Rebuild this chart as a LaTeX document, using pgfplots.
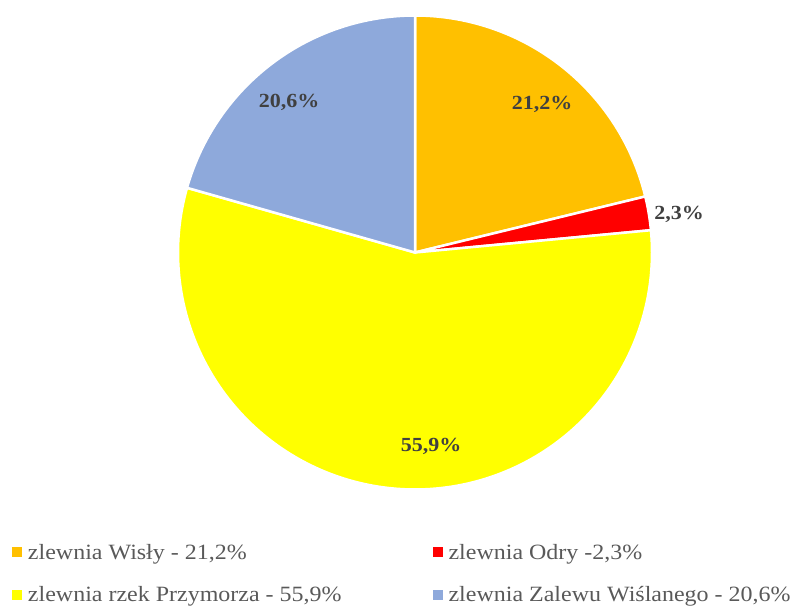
\documentclass[border=0pt]{standalone}
\usepackage{pgfplots}
\pgfplotsset{compat=1.18}
\usepackage{fontspec}
\setmainfont{Liberation Serif}
\newfontfamily\legfont[FakeStretch=1.1]{Liberation Serif}
\newfontfamily\lblfont[FakeStretch=1.1]{Liberation Serif}
\definecolor{cWisla}{HTML}{FFC000}
\definecolor{cOdra}{HTML}{FF0000}
\definecolor{cPrzy}{HTML}{FFFF00}
\definecolor{cZalew}{HTML}{8EA9DB}
\definecolor{lbl}{HTML}{404040}
\definecolor{legtxt}{HTML}{595959}
% data (percent)
\def\vA{21.2}\def\vB{2.3}\def\vC{55.9}\def\vD{20.6}
\def\cx{415}\def\cy{355.5}\def\r{237}
\pgfmathsetmacro{\aO}{90}
\pgfmathsetmacro{\aA}{\aO-3.6*\vA}
\pgfmathsetmacro{\aB}{\aA-3.6*\vB}
\pgfmathsetmacro{\aC}{\aB-3.6*\vC}
\pgfmathsetmacro{\aD}{\aC-3.6*\vD}
\begin{document}
\begin{tikzpicture}
\begin{axis}[
  width=795pt,height=608pt,scale only axis,
  xmin=0,xmax=795,ymin=0,ymax=608,
  hide axis, clip=false,
  legend columns=2,
  legend cell align=left,
  legend image code/.code={\fill[#1,draw=none] (0pt,-5pt) rectangle (10pt,5pt);},
  legend style={draw=none,fill=none,inner sep=0pt,outer sep=0pt,
    at={(axis cs:12,65)},anchor=north west,
    nodes={inner sep=1pt},
    font=\legfont\fontsize{21.8}{24}\selectfont, text=legtxt, row sep=24pt,
    /tikz/every odd column/.append style={column sep=5pt},
    /tikz/every even column/.append style={column sep=90pt}},
]
\addplot[fill=cWisla, draw=white, line width=2.5pt, domain=\aA:\aO, samples=80]
  ({\cx+\r*cos(x)},{\cy+\r*sin(x)}) -- (\cx,\cy) -- cycle;
\addlegendentry{zlewnia Wisły - 21,2\%}
\addplot[fill=cOdra, draw=white, line width=2.5pt, domain=\aB:\aA, samples=10]
  ({\cx+\r*cos(x)},{\cy+\r*sin(x)}) -- (\cx,\cy) -- cycle;
\addlegendentry{zlewnia Odry -2,3\%}
\addplot[fill=cPrzy, draw=white, line width=2.5pt, domain=\aC:\aB, samples=150]
  ({\cx+\r*cos(x)},{\cy+\r*sin(x)}) -- (\cx,\cy) -- cycle;
\addlegendentry{zlewnia rzek Przymorza - 55,9\%}
\addplot[fill=cZalew, draw=white, line width=2.5pt, domain=\aD:\aC, samples=80]
  ({\cx+\r*cos(x)},{\cy+\r*sin(x)}) -- (\cx,\cy) -- cycle;
\addlegendentry{zlewnia Zalewu Wiślanego - 20,6\%}
\begin{scope}[every node/.style={font=\lblfont\bfseries\fontsize{20}{22}\selectfont, text=lbl, anchor=base, inner sep=0pt}]
\node at (axis cs:542,498) {21,2\%};
\node at (axis cs:679,388) {2,3\%};
\node at (axis cs:431,156) {55,9\%};
\node at (axis cs:289,500) {20,6\%};
\end{scope}
\end{axis}
\pgfresetboundingbox
\path[use as bounding box] (current axis.south west) rectangle (current axis.north east);
\end{tikzpicture}
\end{document}
